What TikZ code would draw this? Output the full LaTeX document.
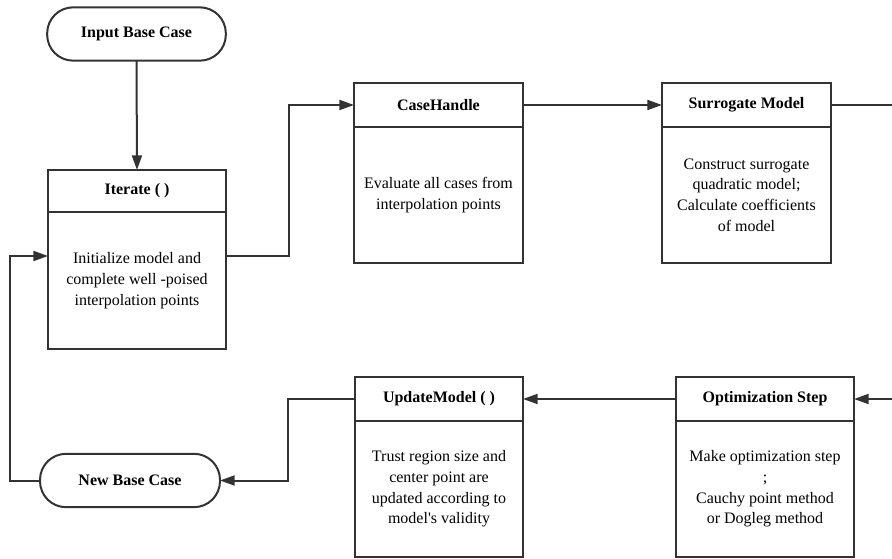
\documentclass[tikz,border=0pt]{standalone}
\usepackage{fontspec}
\setmainfont{Liberation Serif}
\usetikzlibrary{arrows.meta}
\begin{document}
\begin{tikzpicture}[x=0.75pt,y=-0.75pt,
  every node/.style={font=\fontsize{12}{15.5}\selectfont, inner sep=0pt, outer sep=0pt},
  term/.style={draw=black!80, line width=1.5pt, rounded corners=19.5pt, minimum height=40pt, font=\fontsize{12}{15.5}\selectfont\bfseries},
  headbox/.style={draw=black!80, line width=1.5pt, minimum height=33pt, font=\fontsize{12}{15.5}\selectfont\bfseries},
  bodybox/.style={draw=black!80, line width=1.5pt, minimum height=102pt, align=center},
  conn/.style={draw=black!80, line width=1.5pt},
  arr/.style={conn, -{Triangle[length=11pt,width=7.5pt]}}
]
\useasboundingbox (0,0) rectangle (892,559);

% terminals
\node[term, minimum width=134pt] (input) at (136.5,34) {Input Base Case};
\node[term, minimum width=135pt] (newbase) at (130,480.5) {New Base Case};

% Iterate
\node[headbox, minimum width=133.5pt, minimum height=31.5pt] (iterh) at (137,191) {Iterate ( )};
\node[bodybox, minimum width=133.5pt, minimum height=102.75pt] (iterb) at (137,280.5)
  {Initialize model and\\complete well -poised\\interpolation points};

% CaseHandle
\node[headbox, minimum width=126.75pt] (caseh) at (438.5,105) {CaseHandle};
\node[bodybox, minimum width=126.75pt] (caseb) at (438.5,195)
  {Evaluate all cases from\\interpolation points};

% Surrogate Model
\node[headbox, minimum width=126.75pt] (surh) at (746.5,105) {Surrogate Model};
\node[bodybox, minimum width=126.75pt] (surb) at (746.5,195)
  {Construct surrogate\\quadratic model;\\Calculate coefficients\\of model};

% UpdateModel
\node[headbox, minimum width=126pt] (updh) at (439,399) {UpdateModel ( )};
\node[bodybox, minimum width=126pt] (updb) at (439,489)
  {Trust region size and\\center point are\\updated according to\\model\textquotesingle s validity};

% Optimization Step
\node[headbox, minimum width=133.5pt] (opth) at (765,399) {Optimization Step};
\node[bodybox, minimum width=133.5pt] (optb) at (765,489)
  {Make optimization step\\;\\Cauchy point method\\or Dogleg method};

% ports and free ends
\coordinate (iout) at (iterb.east |- 0,256);
\coordinate (iin) at (iterb.west |- 0,256);
\coordinate (rtout) at (892,105);
\coordinate (rtin) at (892,399);

% connectors
\draw[arr] (input.south) -- (iterh.north);
\draw[arr] (iout) -- (289,256) |- (caseh.west);
\draw[arr] (caseh.east) -- (surh.west);
\draw[conn] (surh.east) -- (rtout);
\draw[arr] (rtin) -- (opth.east);
\draw[arr] (opth.west) -- (updh.east);
\draw[arr] (updh.west) -- (288,399) |- (newbase.east);
\draw[arr] (newbase.west) -- (10,480.5) |- (iin);
\end{tikzpicture}
\end{document}
